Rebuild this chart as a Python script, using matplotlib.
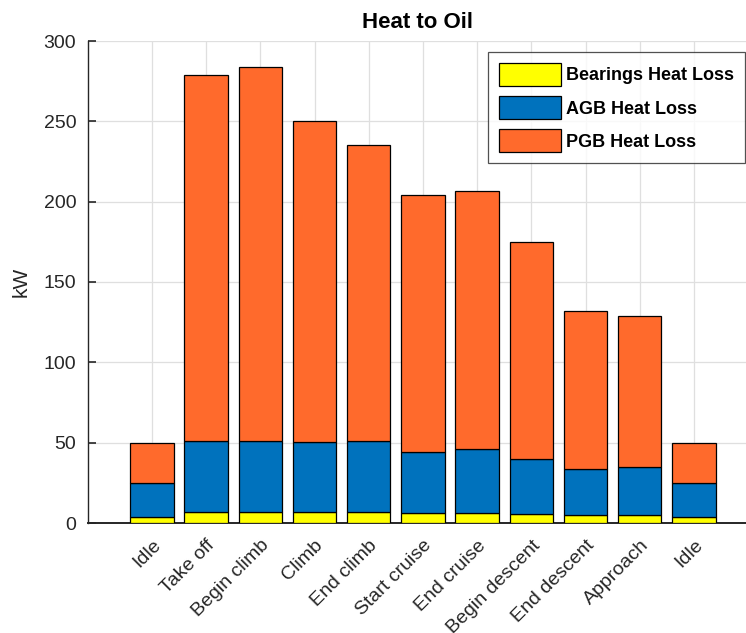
import numpy as np
import matplotlib.pyplot as plt

plt.rcParams["font.family"] = ["Liberation Sans", "DejaVu Sans"]

phases = ["Idle", "Take off", "Begin climb", "Climb", "End climb", "Start cruise",
          "End cruise", "Begin descent", "End descent", "Approach", "Idle"]
bearings = [3.5, 6.6, 6.6, 6.6, 6.6, 6.0, 6.0, 5.8, 4.8, 4.8, 3.5]
agb = [21.2, 44.6, 44.2, 43.6, 44.2, 38.0, 39.9, 34.0, 29.0, 29.9, 21.2]
pgb = [25.3, 227.8, 233.2, 199.8, 184.2, 160.1, 160.6, 135.1, 97.9, 94.1, 25.3]

series_names = ["Bearings Heat Loss", "AGB Heat Loss", "PGB Heat Loss"]
colors = ["#FFFF00", "#0072BD", "#FF6A2C"]

fig = plt.figure(figsize=(7.46, 6.33), dpi=100)
ax = fig.add_axes([88 / 746, 110 / 633, 658 / 746, 482 / 633])

x = np.arange(1, len(phases) + 1)
bottom = np.zeros(len(phases))
for vals, name, c in zip([bearings, agb, pgb], series_names, colors):
    ax.bar(x, vals, width=0.8, bottom=bottom, color=c, edgecolor="black",
           linewidth=0.9, label=name, zorder=3)
    bottom += np.array(vals)

ax.set_xlim(-0.18, 11.96)
ax.set_ylim(0, 300)
ax.set_yticks([0, 50, 100, 150, 200, 250, 300])
ax.set_xticks(x)
ax.set_xticklabels(phases, rotation=45, ha="right", rotation_mode="anchor")
ax.tick_params(axis="both", direction="in", labelsize=14, colors="#262626",
               length=6, width=1.2, pad=8.5)
ax.tick_params(axis="x", pad=10)
ax.grid(True, color="#DFDFDF", linewidth=0.9, zorder=0)
ax.set_axisbelow(True)
for side in ["top", "right"]:
    ax.spines[side].set_visible(False)
for side in ["left", "bottom"]:
    ax.spines[side].set_color("#262626")
ax.spines["left"].set_linewidth(1.0)
ax.spines["bottom"].set_linewidth(1.4)

ax.set_ylabel("kW", fontsize=15, color="#262626", labelpad=9)
ax.set_title("Heat to Oil", fontsize=16, fontweight="bold", pad=9)

leg = ax.legend(loc="upper right", bbox_to_anchor=(0.9985, 0.977),
                prop={"weight": "bold", "size": 13}, frameon=True, fancybox=False,
                handlelength=3.43, handleheight=1.6, labelspacing=0.55,
                handletextpad=0.3, borderpad=0.6, borderaxespad=0)
leg.get_frame().set_edgecolor("#262626")
leg.get_frame().set_linewidth(0.9)

fig.savefig("out.png", dpi=100)
